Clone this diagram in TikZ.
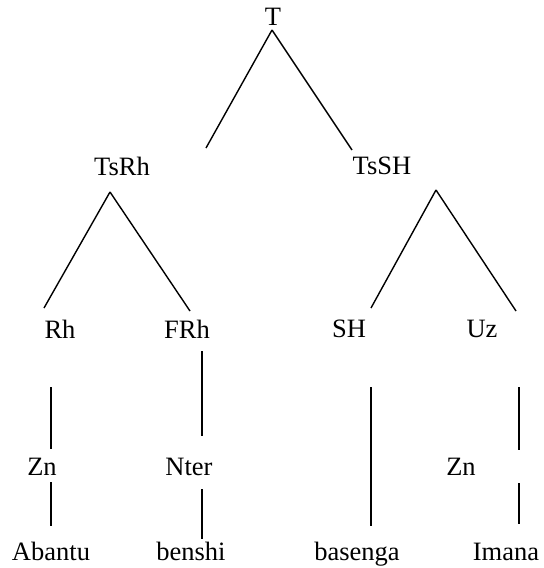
\documentclass[tikz,border=0pt]{standalone}
\usepackage{fontspec}
\setmainfont{Liberation Serif}
\begin{document}
\begin{tikzpicture}[line cap=butt,line join=round,x=0.5pt,y=-0.5pt,
		lab/.style={anchor=base,inner sep=0pt,font=\fontsize{13.25}{15}\selectfont},
		edge/.style={line width=0.7pt},
		heavy/.style={line width=1.4pt}]
				\useasboundingbox (0,0) rectangle (543,568);
				% labels
				\node[lab] (T) at (273,25) {T};
				\node[lab] (TsRh) at (122,175) {TsRh};
				\node[lab] (TsSH) at (382,174) {TsSH};
				\node[lab] (Rh) at (60,338) {Rh};
				\node[lab] (FRh) at (187,338) {FRh};
				\node[lab] (SH) at (349,337) {SH};
				\node[lab] (Uz) at (482,337) {Uz};
				\node[lab] (ZnL) at (42,475) {Zn};
				\node[lab] (Nter) at (189,475) {Nter};
				\node[lab] (ZnR) at (461,475) {Zn};
				\node[lab] (Abantu) at (51,560) {Abantu};
				\node[lab] (benshi) at (191,560) {benshi};
				\node[lab] (basenga) at (357,560) {basenga};
				\node[lab] (Imana) at (506,560) {Imana};
				% line ends
				\coordinate (t0) at (272,30);
				\coordinate (t1) at (206,148);
				\coordinate (t2) at (352,150);
				\coordinate (r0) at (110,192);
				\coordinate (r1) at (44,308);
				\coordinate (r2) at (190,311);
				\coordinate (s0) at (436,190);
				\coordinate (s1) at (371,308);
				\coordinate (s2) at (516,311);
				\coordinate (rh1) at (51,387);
				\coordinate (rh2) at (51,449);
				\coordinate (rh3) at (51,482);
				\coordinate (rh4) at (51,526);
				\coordinate (fr1) at (202,351);
				\coordinate (fr2) at (202,436);
				\coordinate (fr3) at (202,489);
				\coordinate (fr4) at (202,539);
				\coordinate (sh1) at (371,387);
				\coordinate (sh2) at (371,526);
				\coordinate (uz1) at (519,387);
				\coordinate (uz2) at (519,450);
				\coordinate (uz3) at (519,483);
				\coordinate (uz4) at (519,524);
				% branches
				\draw [edge] (t0)-- (t1);
				\draw [edge] (t0)-- (t2);
				\draw [edge] (r0)-- (r1);
				\draw [edge] (r0)-- (r2);
				\draw [edge] (s0)-- (s1);
				\draw [edge] (s0)-- (s2);
				\draw [heavy] (rh1)-- (rh2);
				\draw [heavy] (rh3)-- (rh4);
				\draw [edge] (fr1)-- (fr2);
				\draw [edge] (fr3)-- (fr4);
				\draw [edge] (sh1)-- (sh2);
				\draw [edge] (uz1)-- (uz2);
				\draw [edge] (uz3)-- (uz4);
			\end{tikzpicture}
\end{document}
